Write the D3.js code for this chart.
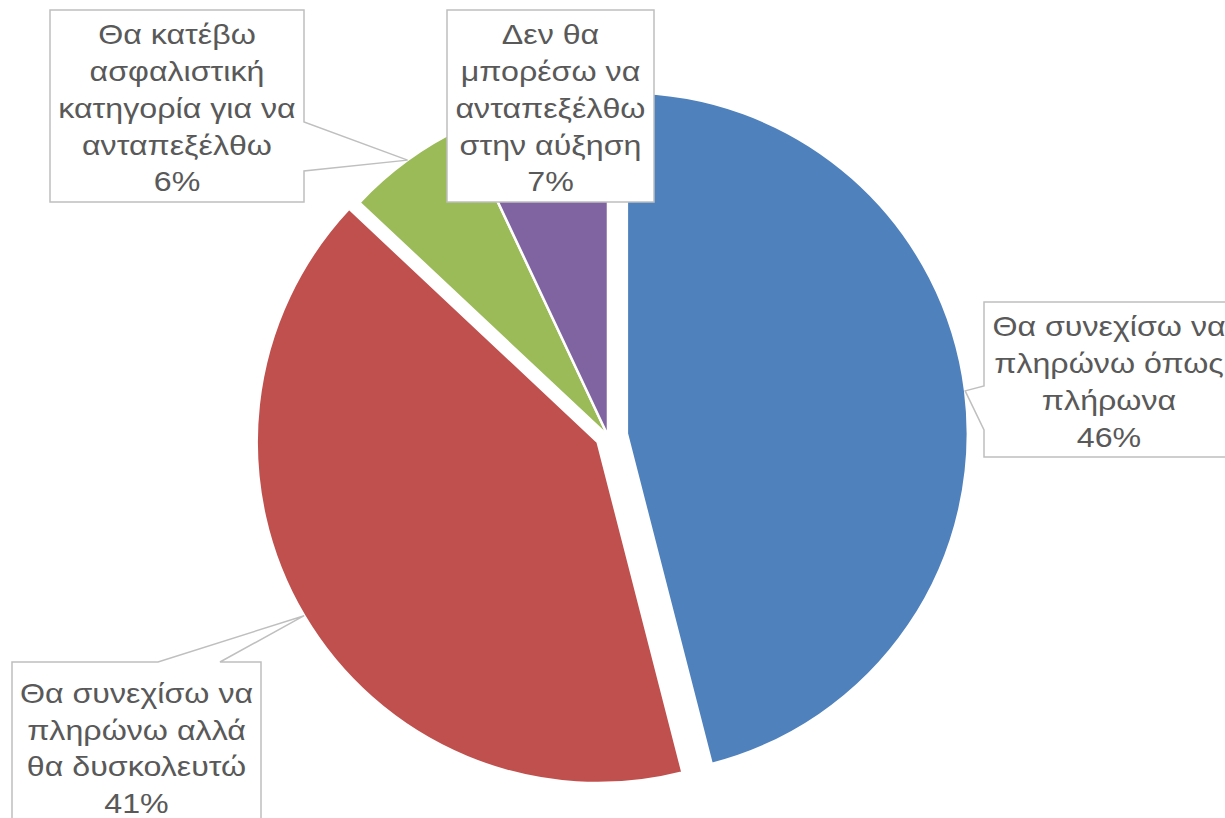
<!DOCTYPE html>
<html>
<head>
<meta charset="utf-8">
<script src="https://cdn.jsdelivr.net/npm/d3@7"></script>
<style>
  html, body { margin: 0; padding: 0; background: #ffffff; overflow: hidden; }
  svg { display: block; }
</style>
</head>
<body>
<svg id="chart" width="1225" height="818"></svg>
<script>
// ---- data ----
const categories = [
  "Θα συνεχίσω να πληρώνω όπως πλήρωνα",
  "Θα συνεχίσω να πληρώνω αλλά θα δυσκολευτώ",
  "Θα κατέβω ασφαλιστική κατηγορία για να ανταπεξέλθω",
  "Δεν θα μπορέσω να ανταπεξέλθω στην αύξηση"
];
const values = [46, 41, 6, 7];
const labelLines = [
  ["Θα συνεχίσω να", "πληρώνω όπως", "πλήρωνα"],
  ["Θα συνεχίσω να", "πληρώνω αλλά", "θα δυσκολευτώ"],
  ["Θα κατέβω", "ασφαλιστική", "κατηγορία για να", "ανταπεξέλθω"],
  ["Δεν θα", "μπορέσω να", "ανταπεξέλθω", "στην αύξηση"]
];
const colors = ["#4F81BD", "#C0504D", "#9BBB59", "#8064A2"];

// ---- layout ----
const W = 1225, H = 818;
const cx = 608, cy = 436, R = 341;
const explode = [19, 12, 0, 0];
// callout boxes: [left, top, right, bottom], pointer side & base points
const boxes = [
  { x0: 984, y0: 302, x1: 1234, y1: 457, side: "left", b: [386, 430] },
  { x0: 12, y0: 662, x1: 261, y1: 830, side: "top", b: [158, 220] },
  { x0: 50, y0: 10, x1: 304, y1: 202, side: "right", b: [122, 171] },
  { x0: 447, y0: 10, x1: 654, y1: 202, side: "none", b: [] }
];
const lineH = 36.75;
const fontSize = 28.5;
const stretchX = 1.13;

const svg = d3.select("#chart");

const pie = d3.pie().sort(null).value(d => d).startAngle(0).endAngle(2 * Math.PI);
const arcs = pie(values);
const arcGen = d3.arc().innerRadius(0).outerRadius(R);

const offsets = arcs.map((a, i) => {
  const mid = (a.startAngle + a.endAngle) / 2;
  return [explode[i] * Math.sin(mid), -explode[i] * Math.cos(mid)];
});

const g = svg.append("g").attr("transform", `translate(${cx},${cy})`);
g.selectAll("path.slice")
  .data(arcs)
  .join("path")
  .attr("class", "slice")
  .attr("d", arcGen)
  .attr("transform", (d, i) => `translate(${offsets[i][0]},${offsets[i][1]})`)
  .attr("fill", (d, i) => colors[i])
  .attr("stroke", "#ffffff")
  .attr("stroke-width", 2.5)
  .attr("stroke-linejoin", "round");

// callouts
const fmt = v => Math.round(v / d3.sum(values) * 100) + "%";

arcs.forEach((a, i) => {
  const bx = boxes[i];
  const mid = (a.startAngle + a.endAngle) / 2;
  const tipX = cx + offsets[i][0] + R * Math.sin(mid);
  const tipY = cy + offsets[i][1] - R * Math.cos(mid);
  let p = d3.path();
  const { x0, y0, x1, y1 } = bx;
  if (bx.side === "left") {
    p.moveTo(x0, y0); p.lineTo(x1, y0); p.lineTo(x1, y1); p.lineTo(x0, y1);
    p.lineTo(x0, bx.b[1]); p.lineTo(tipX, tipY); p.lineTo(x0, bx.b[0]); p.closePath();
  } else if (bx.side === "top") {
    p.moveTo(x0, y0); p.lineTo(bx.b[0], y0); p.lineTo(tipX, tipY); p.lineTo(bx.b[1], y0);
    p.lineTo(x1, y0); p.lineTo(x1, y1); p.lineTo(x0, y1); p.closePath();
  } else if (bx.side === "right") {
    p.moveTo(x0, y0); p.lineTo(x1, y0); p.lineTo(x1, bx.b[0]); p.lineTo(tipX, tipY);
    p.lineTo(x1, bx.b[1]); p.lineTo(x1, y1); p.lineTo(x0, y1); p.closePath();
  } else {
    p.rect(x0, y0, x1 - x0, y1 - y0);
  }
  svg.append("path")
    .attr("d", p.toString())
    .attr("fill", "#ffffff")
    .attr("stroke", "#BFBFBF")
    .attr("stroke-width", 1.5)
    .attr("stroke-linejoin", "miter");

  const lines = labelLines[i].concat([fmt(values[i])]);
  const n = lines.length;
  const midX = (x0 + x1) / 2;
  const midY = (y0 + y1) / 2;
  const t = svg.append("text")
    .attr("transform", `translate(${midX},0) scale(${stretchX},1)`)
    .attr("font-family", "'Liberation Sans', Arial, sans-serif")
    .attr("font-size", fontSize)
    .attr("fill", "#595959")
    .attr("text-anchor", "middle");
  lines.forEach((ln, k) => {
    t.append("tspan")
      .attr("x", 0)
      .attr("y", midY + (k - (n - 1) / 2) * lineH + 12)
      .text(ln);
  });
});
</script>
</body>
</html>
